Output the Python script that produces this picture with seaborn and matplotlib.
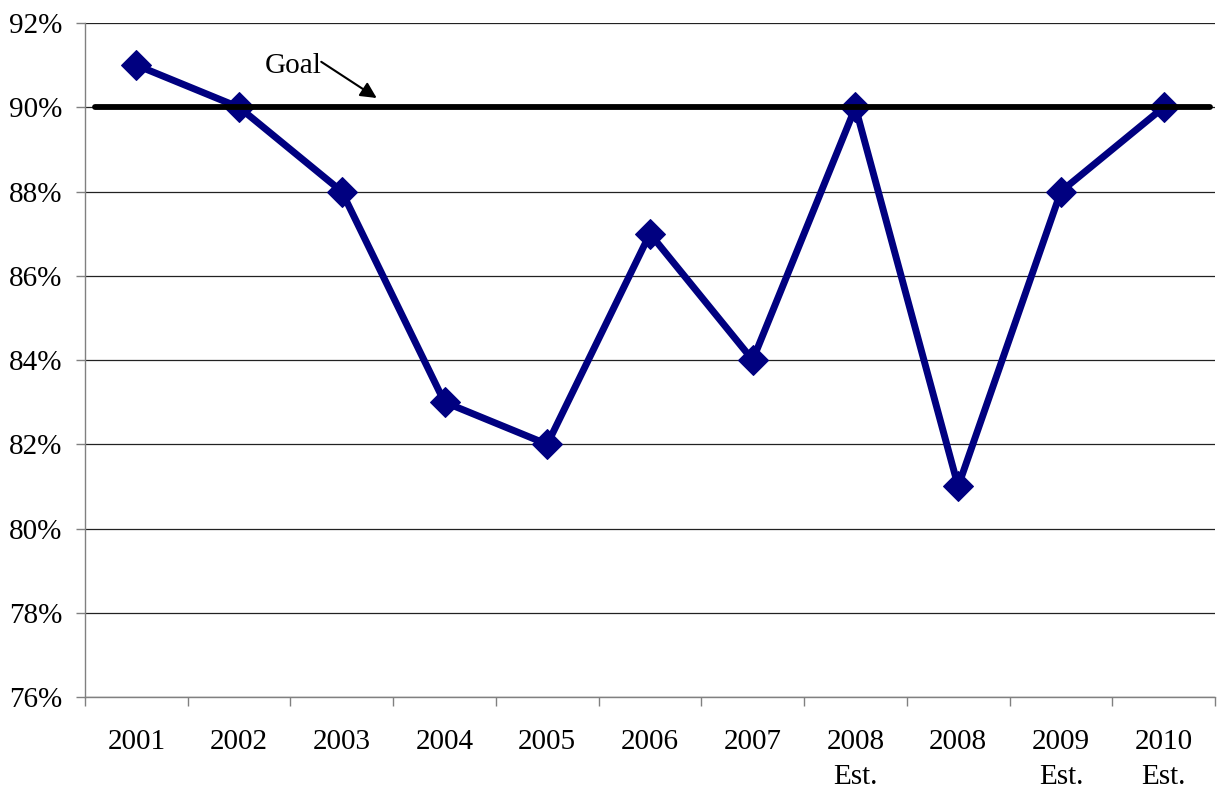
import matplotlib
matplotlib.use("Agg")
import matplotlib.pyplot as plt
import seaborn as sns
import pandas as pd
import numpy as np
from matplotlib.ticker import FixedLocator

categories = ["2001", "2002", "2003", "2004", "2005", "2006", "2007",
              "2008\nEst.", "2008", "2009\nEst.", "2010\nEst."]
values = [91, 90, 88, 83, 82, 87, 84, 90, 81, 88, 90]
goal = 90
y_ticks = [76, 78, 80, 82, 84, 86, 88, 90, 92]

sns.set_theme(style="white")
plt.rcParams['font.family'] = ['Liberation Serif', 'DejaVu Serif']
plt.rcParams['text.color'] = 'black'
plt.rcParams['xtick.color'] = 'black'
plt.rcParams['ytick.color'] = 'black'

fig = plt.figure(figsize=(12.19, 7.89), dpi=100)
ax = fig.add_axes([0.0697, 0.1166, 0.9270, 0.8542])

df = pd.DataFrame({"pos": np.arange(len(categories)), "val": values})

sns.lineplot(data=df, x="pos", y="val", ax=ax, sort=False, color="#000080",
             lw=5.0, marker="D", markersize=15, markeredgecolor="#000080",
             zorder=4)

ax.axhline(goal, xmin=(-0.40 + 0.5) / 11, xmax=(10.45 + 0.5) / 11,
           color="black", lw=4.2, zorder=5)

ax.set_xlim(-0.5, len(categories) - 0.5)
ax.set_ylim(76, 92)
ax.set_yticks(y_ticks)
ax.set_yticklabels([f"{t}%" for t in y_ticks])
ax.yaxis.grid(True, color="#222222", lw=0.9)
ax.set_axisbelow(True)

ax.set_xticks(np.arange(len(categories)))
ax.set_xticklabels(categories, linespacing=1.45)
ax.xaxis.set_minor_locator(FixedLocator(np.arange(-0.5, len(categories), 1.0)))
ax.tick_params(axis="x", which="major", length=0, pad=23, labelsize=21)
ax.tick_params(axis="x", which="minor", length=6.5, width=1.0, color="#808080",
               direction="out", bottom=True)
ax.tick_params(axis="y", length=6.5, width=1.0, color="#808080", direction="out",
               left=True, labelsize=21, pad=10)
for lab in ax.get_xticklabels():
    lab.set_verticalalignment("top")

for s in ["top", "right"]:
    ax.spines[s].set_visible(False)
for s in ["left", "bottom"]:
    ax.spines[s].set_color("#808080")
    ax.spines[s].set_linewidth(1.0)

ax.set_xlabel("")
ax.set_ylabel("")

ax.text(1.25, 90.98, "Goal", fontsize=21, va="center", ha="left", zorder=6)
ax.annotate("", xy=(2.34, 90.22), xytext=(1.80, 91.08),
            arrowprops=dict(arrowstyle="-|>", color="black", lw=1.5,
                            mutation_scale=24, shrinkA=0, shrinkB=0),
            zorder=6)

fig.savefig("out.png", dpi=100)
